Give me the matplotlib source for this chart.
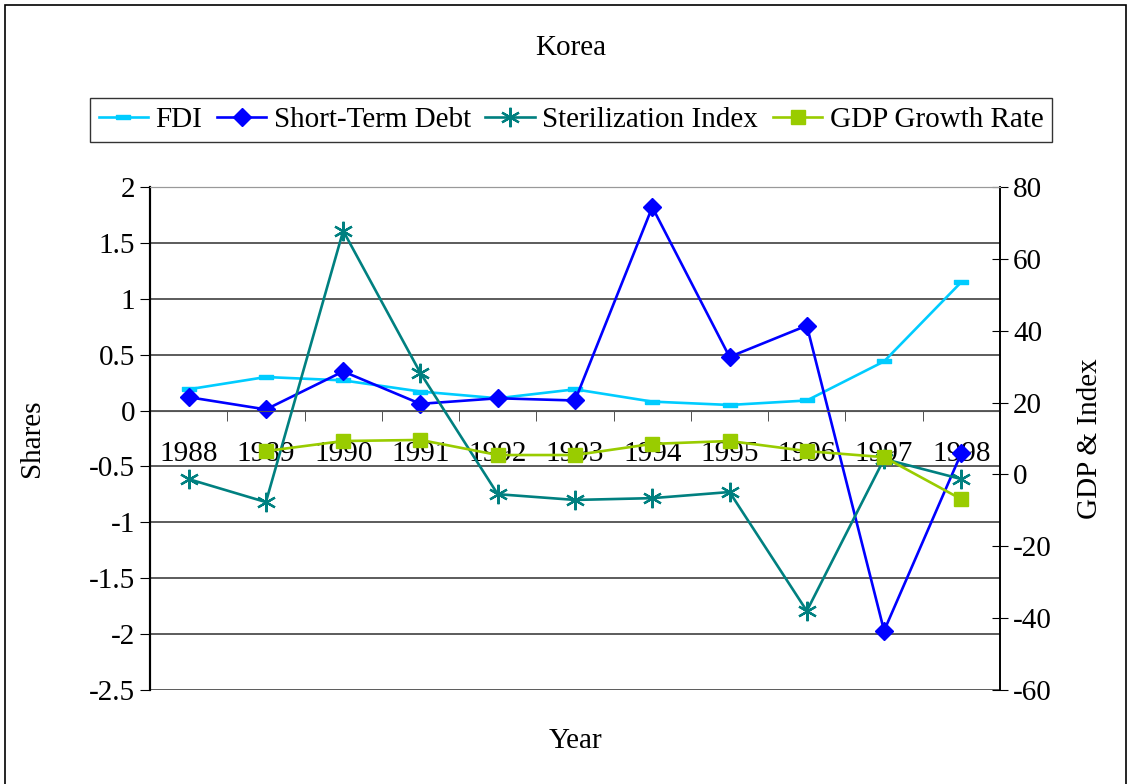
import numpy as np
import matplotlib
matplotlib.use('Agg')
import matplotlib.pyplot as plt
from matplotlib.patches import Rectangle

plt.rcParams['font.family'] = ['Liberation Serif', 'DejaVu Serif']
plt.rcParams['axes.unicode_minus'] = False

years = ['1988', '1989', '1990', '1991', '1992', '1993', '1994', '1995', '1996', '1997', '1998']
fdi = [0.19, 0.30, 0.27, 0.17, 0.11, 0.19, 0.08, 0.05, 0.09, 0.44, 1.15]
short_debt = [0.12, 0.01, 0.35, 0.06, 0.11, 0.09, 1.82, 0.48, 0.76, -1.97, -0.38]
steril_index = [-1.3, -7.7, 67.8, 28.2, -5.5, -7.1, -6.6, -4.9, -38.0, 4.3, -1.3]
gdp_growth = [np.nan, 6.5, 9.3, 9.6, 5.4, 5.4, 8.5, 9.3, 6.5, 4.8, -6.9]

fs = 21
x = np.arange(len(years))
dash = [(-1, -0.3), (1, -0.3), (1, 0.3), (-1, 0.3), (-1, -0.3)]

fig = plt.figure(figsize=(11.28, 7.84), dpi=100)
ax = fig.add_axes([150/1128, 1-690/784, 850/1128, 503/784])
ax2 = ax.twinx()

l1, = ax.plot(x, fdi, color='#00CCFF', lw=1.9, marker=dash, ms=10, label='FDI')
l2, = ax.plot(x, short_debt, color='#0000FF', lw=1.9, marker='D', ms=9.5, label='Short-Term Debt')
l3, = ax2.plot(x, steril_index, color='#008080', lw=1.9, marker=(6, 2, 0), ms=14, mew=1.6, label='Sterilization Index')
l4, = ax2.plot(x, gdp_growth, color='#99CC00', lw=1.9, marker='s', ms=10, label='GDP Growth Rate')

ax.set_xlim(-0.5, len(years) - 0.5)
ax.set_ylim(-2.5, 2)
ax.set_yticks(np.arange(-2.5, 2.01, 0.5))
ax.set_yticklabels(['-2.5', '-2', '-1.5', '-1', '-0.5', '0', '0.5', '1', '1.5', '2'])
ax2.set_ylim(-60, 80)
ax2.set_yticks(np.arange(-60, 81, 20))

ax.yaxis.grid(True, color='#404040', lw=1.2)
ax.set_axisbelow(True)

# category axis crossing at zero
ax.spines['bottom'].set_position(('data', 0))
for a in (ax, ax2):
    a.spines['bottom'].set_color('#555555')
    a.spines['top'].set_color('#999999')
    a.spines['left'].set_linewidth(1.5)
    a.spines['right'].set_linewidth(1.2)
ax2.spines['bottom'].set_visible(False)
ax.set_xticks(x)
ax.set_xticklabels(years)
ax.set_xticks(np.arange(0.5, len(years) - 1, 1), minor=True)
ax.tick_params(axis='x', which='major', length=0, pad=22, labelsize=fs)
ax.tick_params(axis='x', which='minor', length=7, direction='out', color='#333333')
ax.tick_params(axis='y', length=7, direction='out', labelsize=fs)
ax2.tick_params(axis='y', length=12, direction='inout', labelsize=fs)

ax.set_ylabel('Shares', fontsize=fs, labelpad=32)
ax2.set_ylabel('GDP & Index', fontsize=fs, labelpad=18)
fig.text(576/1128, 1-741/784, 'Year', fontsize=fs, ha='center', va='center')
fig.text(571/1128, 1-48/784, 'Korea', fontsize=fs, ha='center', va='center')

fig.legend(handles=[l1, l2, l3, l4], loc='center', bbox_to_anchor=(571/1128, 1-120/784),
           ncol=4, fontsize=fs, frameon=True, fancybox=False, edgecolor='black',
           handlelength=1.7, handletextpad=0.25, columnspacing=0.5, borderpad=0.3,
           borderaxespad=0)

fig.patches.append(Rectangle((5/1128, -0.01), 1121/1128, 1-5/784 + 0.01, transform=fig.transFigure,
                             fill=False, edgecolor='black', lw=1.2))

fig.savefig('out.png', dpi=100)
